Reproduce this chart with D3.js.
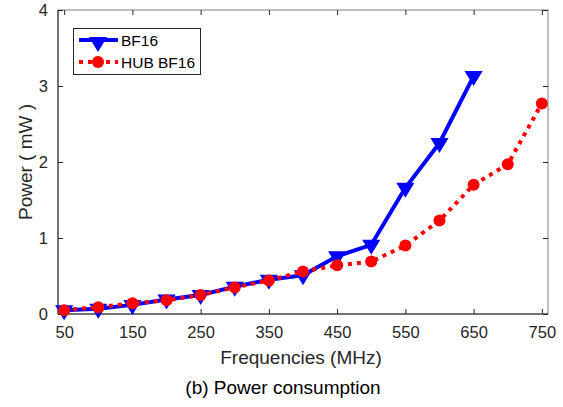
<!DOCTYPE html>
<html>
<head>
<meta charset="utf-8">
<script src="https://cdn.jsdelivr.net/npm/d3@7"></script>
<style>
  body { margin: 0; background: #fff; }
  text { font-family: "Liberation Sans", Arial, sans-serif; }
</style>
</head>
<body>
<svg id="svg" width="563" height="407"></svg>
<script>
    // data
    const freqs = [50, 100, 150, 200, 250, 300, 350, 400, 450, 500, 550, 600, 650, 700, 750];
    const bf16 = [0.05, 0.07, 0.12, 0.19, 0.25, 0.36, 0.45, 0.51, 0.76, 0.91, 1.66, 2.25, 3.13];
    const hubBf16 = [0.05, 0.09, 0.14, 0.18, 0.25, 0.35, 0.44, 0.56, 0.64, 0.69, 0.90, 1.23, 1.70, 1.97, 2.77];
    const xTicks = [50, 150, 250, 350, 450, 550, 650, 750];
    const yTicks = [0, 1, 2, 3, 4];

    const mLeft = 58, mRight = 548, mTop = 10, mBottom = 314;
    const svg = d3.select("#svg");
    const x = d3.scaleLinear().domain([41, 759]).range([mLeft, mRight]);
    const y = d3.scaleLinear().domain([0, 4]).range([mBottom, mTop]);
    const axisCol = "#808080", textCol = "#262626";

    // box + ticks
    svg.append("rect").attr("x", mLeft).attr("y", mTop).attr("width", mRight - mLeft).attr("height", mBottom - mTop)
        .attr("fill", "none").attr("stroke", axisCol).attr("stroke-width", 1);
    svg.append("line").attr("x1", mLeft).attr("x2", mLeft).attr("y1", mTop).attr("y2", mBottom)
        .attr("stroke", "#262626");
    svg.append("line").attr("x1", mLeft).attr("x2", mRight).attr("y1", mBottom).attr("y2", mBottom)
        .attr("stroke", "#262626");

    const gx = svg.append("g").attr("transform", `translate(0,${mBottom})`)
        .call(d3.axisBottom(x).tickValues(xTicks).tickSize(-5).tickPadding(12));
    const gxt = svg.append("g").attr("transform", `translate(0,${mTop})`)
        .call(d3.axisTop(x).tickValues(xTicks).tickSize(-5).tickFormat(""));
    const gy = svg.append("g").attr("transform", `translate(${mLeft},0)`)
        .call(d3.axisLeft(y).tickValues(yTicks).tickSize(-5).tickPadding(10).tickFormat(d3.format("d")));
    const gyr = svg.append("g").attr("transform", `translate(${mRight},0)`)
        .call(d3.axisRight(y).tickValues(yTicks).tickSize(-5).tickFormat(""));
    [gx, gxt, gy, gyr].forEach(g => {
        g.select(".domain").remove();
        g.selectAll(".tick line").attr("stroke", "#262626");
        g.selectAll("text").attr("fill", textCol).style("font-size", "16.5px")
            .style("font-family", "'Liberation Sans', Arial, sans-serif");
    });

    // labels
    svg.append("text").attr("x", 301).attr("y", 364).attr("text-anchor", "middle")
        .attr("fill", textCol).style("font-size", "19px").text("Frequencies (MHz)");
    svg.append("text").attr("transform", "translate(32,162) rotate(-90)").attr("text-anchor", "middle")
        .attr("fill", textCol).style("font-size", "19px").text("Power ( mW )");
    svg.append("text").attr("x", 283).attr("y", 394).attr("text-anchor", "middle")
        .attr("fill", "#000").style("font-size", "19px").text("(b) Power consumption");

    const line = d3.line().x(d => x(d[0])).y(d => y(d[1]));
    const bfPts = bf16.map((v, i) => [freqs[i], v]);
    const hubPts = hubBf16.map((v, i) => [freqs[i], v]);
    const tri = d3.symbol().type(d3.symbolTriangle).size(130);

    svg.append("path").attr("d", line(bfPts)).attr("fill", "none")
        .attr("stroke", "#0000ff").attr("stroke-width", 4).attr("stroke-linejoin", "round");
    svg.selectAll(".tri").data(bfPts).enter().append("path")
        .attr("d", tri).attr("transform", d => `translate(${x(d[0])},${y(d[1])}) rotate(180) scale(1.05,1)`)
        .attr("fill", "#0000ff");

    svg.append("path").attr("d", line(hubPts)).attr("fill", "none")
        .attr("stroke", "#ff0000").attr("stroke-width", 4).attr("stroke-dasharray", "4,5");
    svg.selectAll(".dot").data(hubPts).enter().append("circle")
        .attr("cx", d => x(d[0])).attr("cy", d => y(d[1])).attr("r", 6).attr("fill", "#ff0000");

    // legend
    const lg = svg.append("g");
    lg.append("rect").attr("x", 73.5).attr("y", 28.5).attr("width", 127).attr("height", 46)
        .attr("fill", "#fff").attr("stroke", "#262626").attr("stroke-width", 1);
    lg.append("line").attr("x1", 79).attr("x2", 118).attr("y1", 40).attr("y2", 40)
        .attr("stroke", "#0000ff").attr("stroke-width", 4);
    lg.append("path").attr("d", tri).attr("transform", "translate(98,42) rotate(180) scale(1.05,1)").attr("fill", "#0000ff");
    lg.append("line").attr("x1", 79).attr("x2", 118).attr("y1", 62).attr("y2", 62)
        .attr("stroke", "#ff0000").attr("stroke-width", 4).attr("stroke-dasharray", "4,5");
    lg.append("circle").attr("cx", 98).attr("cy", 62).attr("r", 6).attr("fill", "#ff0000");
    lg.append("text").attr("x", 121).attr("y", 46).attr("fill", "#000").style("font-size", "15.5px").text("BF16");
    lg.append("text").attr("x", 121).attr("y", 68).attr("fill", "#000").style("font-size", "15.5px").text("HUB BF16");
</script>
</body>
</html>
